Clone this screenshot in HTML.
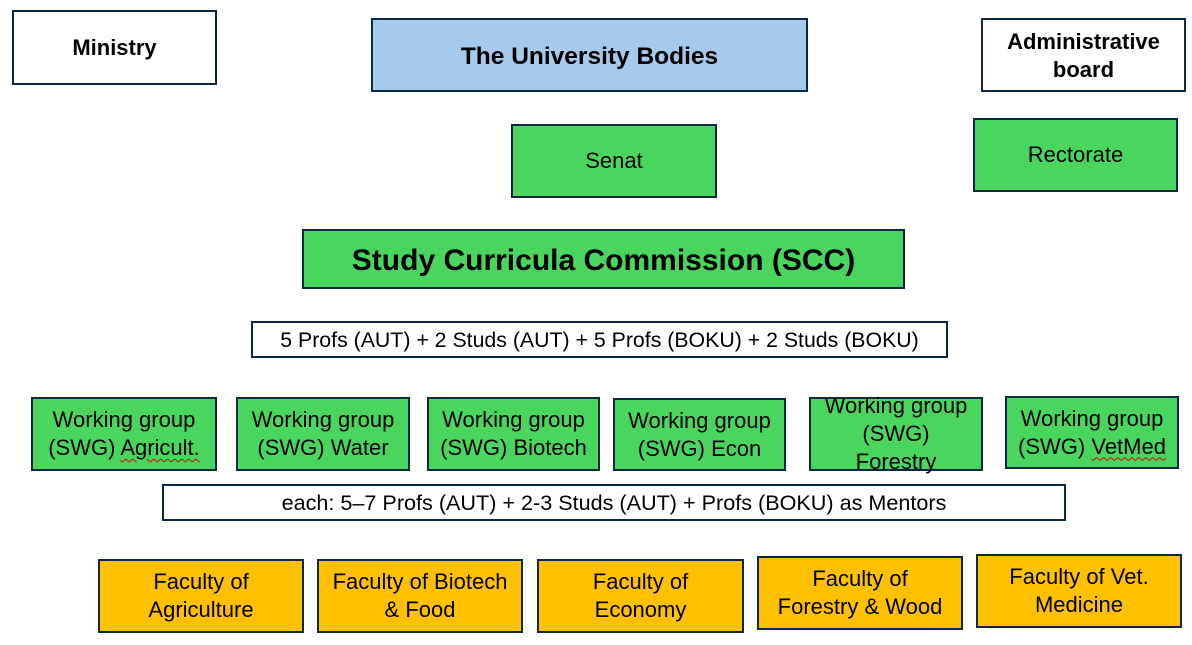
<!DOCTYPE html>
<html>
<head>
<meta charset="utf-8">
<style>
  html,body{margin:0;padding:0;background:#fff;}
  body{width:1192px;height:645px;position:relative;overflow:hidden;font-family:"Liberation Sans",Arial,sans-serif;color:#000;}
  .b{position:absolute;box-sizing:border-box;border:2px solid #0e2841;display:flex;align-items:center;justify-content:center;text-align:center;line-height:28px;font-size:22px;}
  .b > div{white-space:nowrap;}
  .w{background:#fff;}
  .g{background:#4ad55e;}
  .bl{background:#a6caec;}
  .o{background:#ffc000;}
  .bold{font-weight:bold;}
  .sq{text-decoration:underline wavy #d00;text-decoration-thickness:1px;text-underline-offset:3px;}
</style>
</head>
<body>
  <div class="b w bold" style="left:12px;top:10px;width:205px;height:75px;font-size:22px;"><div>Ministry</div></div>
  <div class="b bl bold" style="left:371px;top:18px;width:437px;height:74px;font-size:24.5px;padding-top:3px;"><div>The University Bodies</div></div>
  <div class="b w bold" style="left:981px;top:18px;width:205px;height:74px;font-size:22px;padding-top:2px;"><div>Administrative<br>board</div></div>

  <div class="b g" style="left:511px;top:124px;width:206px;height:74px;"><div>Senat</div></div>
  <div class="b g" style="left:973px;top:118px;width:205px;height:74px;"><div>Rectorate</div></div>

  <div class="b g bold" style="left:302px;top:229px;width:603px;height:60px;font-size:30px;padding-top:3px;"><div>Study Curricula Commission (SCC)</div></div>
  <div class="b w" style="left:251px;top:321px;width:697px;height:37px;font-size:21.3px;"><div>5 Profs (AUT) + 2 Studs (AUT) + 5 Profs (BOKU) + 2 Studs (BOKU)</div></div>

  <div class="b g" style="left:31px;top:397px;width:186px;height:74px;"><div>Working group<br>(SWG) <span class="sq">Agricult.</span></div></div>
  <div class="b g" style="left:236px;top:397px;width:174px;height:74px;"><div>Working group<br>(SWG) Water</div></div>
  <div class="b g" style="left:427px;top:397px;width:173px;height:74px;"><div>Working group<br>(SWG) Biotech</div></div>
  <div class="b g" style="left:613px;top:398px;width:173px;height:73px;"><div>Working group<br>(SWG) Econ</div></div>
  <div class="b g" style="left:809px;top:397px;width:174px;height:74px;"><div>Working group<br>(SWG)<br>Forestry</div></div>
  <div class="b g" style="left:1005px;top:396px;width:174px;height:73px;"><div>Working group<br>(SWG) <span class="sq">VetMed</span></div></div>

  <div class="b w" style="left:162px;top:484px;width:904px;height:37px;font-size:21.6px;"><div>each: 5–7 Profs (AUT) + 2-3 Studs (AUT) + Profs (BOKU) as Mentors</div></div>

  <div class="b o" style="left:98px;top:559px;width:206px;height:74px;"><div>Faculty of<br>Agriculture</div></div>
  <div class="b o" style="left:317px;top:559px;width:206px;height:74px;"><div>Faculty of Biotech<br>&amp; Food</div></div>
  <div class="b o" style="left:537px;top:559px;width:207px;height:74px;"><div>Faculty of<br>Economy</div></div>
  <div class="b o" style="left:757px;top:556px;width:206px;height:74px;"><div>Faculty of<br>Forestry &amp; Wood</div></div>
  <div class="b o" style="left:976px;top:554px;width:206px;height:74px;"><div>Faculty of Vet.<br>Medicine</div></div>
</body>
</html>
